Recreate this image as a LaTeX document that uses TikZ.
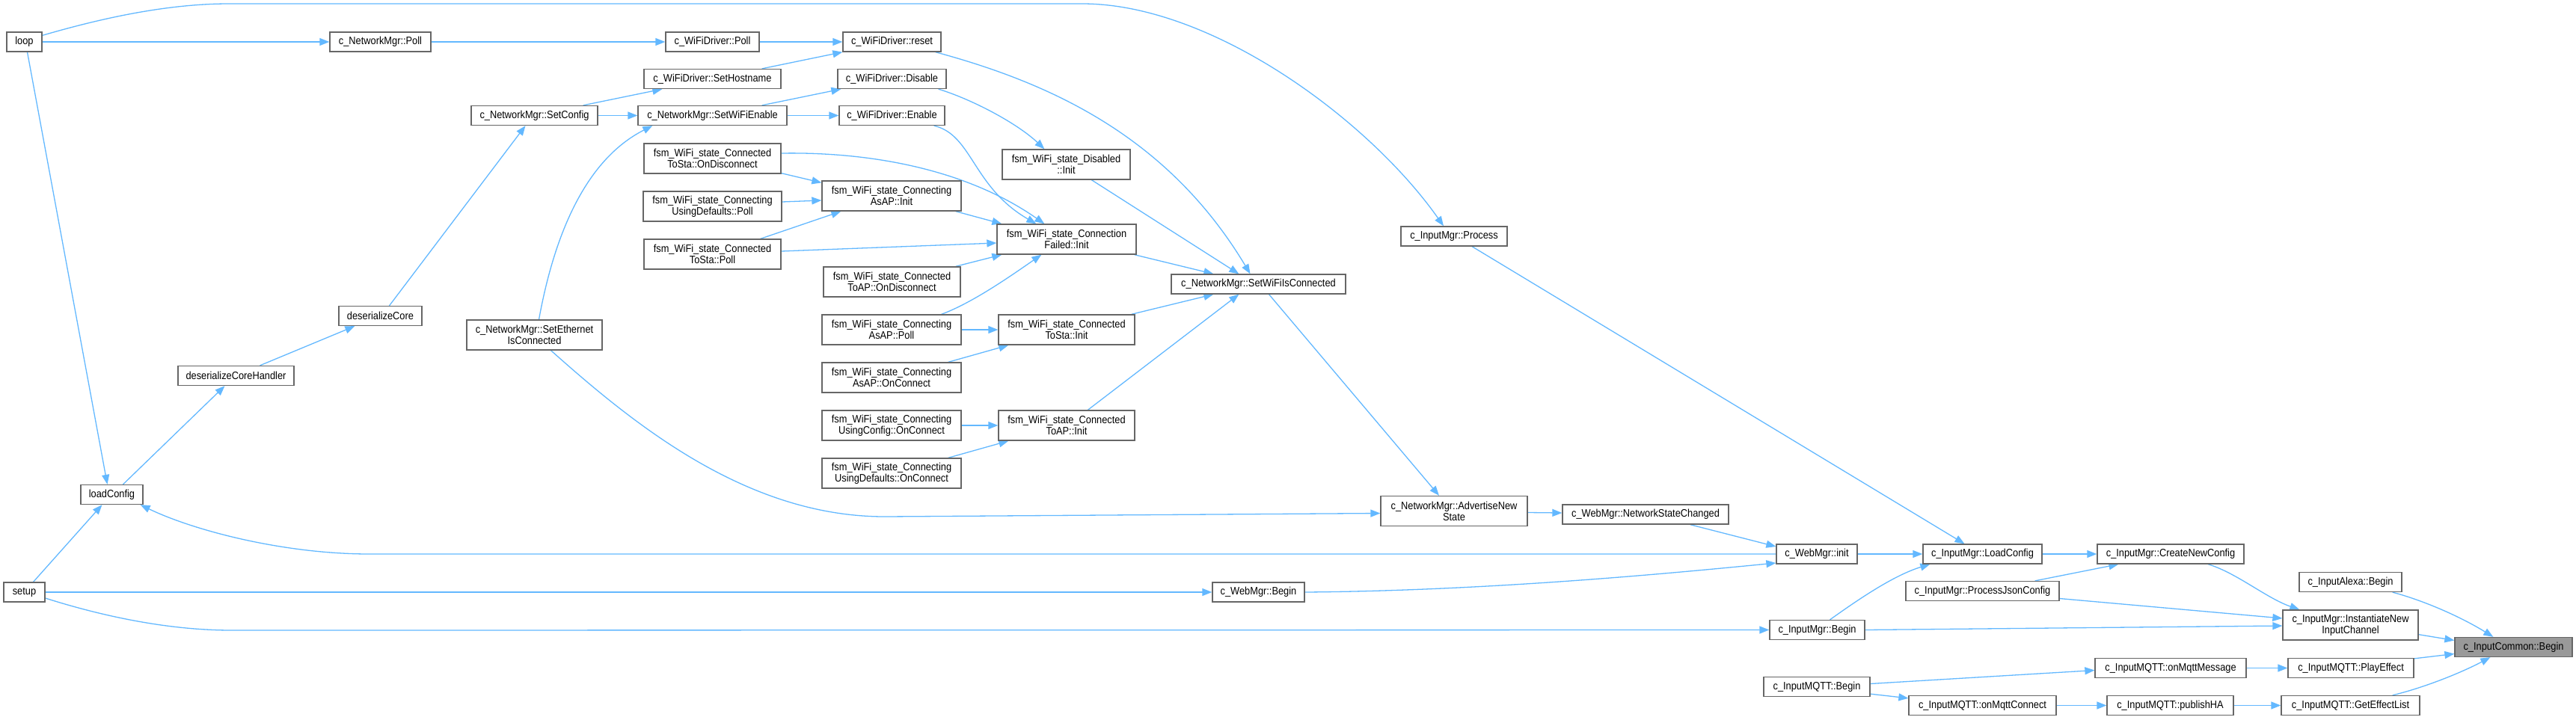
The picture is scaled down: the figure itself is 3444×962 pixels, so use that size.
\documentclass[tikz,border=0pt]{standalone}
\usepackage{fontspec}
\setmainfont{Liberation Sans}[FakeStretch=0.89]
\usetikzlibrary{arrows.meta,calc}
\definecolor{edgeblue}{HTML}{63B8FF}
\definecolor{boxgray}{HTML}{666666}
\definecolor{hlgray}{HTML}{999999}
\newcommand{\nodefnt}{\fontsize{14.4pt}{15pt}\selectfont}
\pgfdeclarelayer{bg}
\pgfsetlayers{bg,main}
\tikzset{
  box/.style={draw=boxgray, fill=white, line width=1.3pt, inner sep=0pt, align=center, font=\nodefnt, minimum height=26pt},
  two/.style={minimum height=40pt},
  conn/.style={draw=edgeblue, line width=1.3pt, -{Triangle[length=13pt,width=10pt]}},
}
\begin{document}
\begin{tikzpicture}[x=1pt,y=-1pt]
\useasboundingbox (0,0) rectangle (3444,962);
\node[box,minimum width=47pt] (loop) at (32.5,56) {loop};
\node[box,minimum width=55pt] (setup) at (32.5,792) {setup};
\node[box,minimum width=83pt] (loadcfg) at (149.5,661.5) {loadConfig};
\node[box,minimum width=155pt] (dch) at (315.5,502.5) {deserializeCoreHandler};
\node[box,minimum width=135pt] (nmpoll) at (508.5,56) {c\_NetworkMgr::Poll};
\node[box,minimum width=111pt] (dc) at (508.5,422.5) {deserializeCore};
\node[box,minimum width=169pt] (setcfg) at (714.5,154.5) {c\_NetworkMgr::SetConfig};
\node[box,two,minimum width=181pt] (seteth) at (714.5,448) {c\_NetworkMgr::SetEthernet\\IsConnected};
\node[box,minimum width=125pt] (wdpoll) at (952.5,56) {c\_WiFiDriver::Poll};
\node[box,minimum width=183pt] (sethost) at (952.5,105.5) {c\_WiFiDriver::SetHostname};
\node[box,minimum width=199pt] (setwifien) at (952.5,154.5) {c\_NetworkMgr::SetWiFiEnable};
\node[box,two,minimum width=183pt] (tsondisc) at (952.5,212) {fsm\_WiFi\_state\_Connected\\ToSta::OnDisconnect};
\node[box,two,minimum width=185pt] (udpoll) at (952.5,276) {fsm\_WiFi\_state\_Connecting\\UsingDefaults::Poll};
\node[box,two,minimum width=183pt] (tspoll) at (952.5,340) {fsm\_WiFi\_state\_Connected\\ToSta::Poll};
\node[box,minimum width=131pt] (reset) at (1192.5,56) {c\_WiFiDriver::reset};
\node[box,minimum width=145pt] (disable) at (1192.5,105.5) {c\_WiFiDriver::Disable};
\node[box,minimum width=141pt] (enable) at (1192.5,154.5) {c\_WiFiDriver::Enable};
\node[box,two,minimum width=186pt] (aainit) at (1192,262) {fsm\_WiFi\_state\_Connecting\\AsAP::Init};
\node[box,two,minimum width=183pt] (taondisc) at (1192.5,377) {fsm\_WiFi\_state\_Connected\\ToAP::OnDisconnect};
\node[box,two,minimum width=186pt] (aapoll) at (1192,441) {fsm\_WiFi\_state\_Connecting\\AsAP::Poll};
\node[box,two,minimum width=186pt] (aaonconn) at (1192,505) {fsm\_WiFi\_state\_Connecting\\AsAP::OnConnect};
\node[box,two,minimum width=186pt] (uconconn) at (1192,569) {fsm\_WiFi\_state\_Connecting\\UsingConfig::OnConnect};
\node[box,two,minimum width=186pt] (udonconn) at (1192,633) {fsm\_WiFi\_state\_Connecting\\UsingDefaults::OnConnect};
\node[box,two,minimum width=171pt] (disinit) at (1425.5,220) {fsm\_WiFi\_state\_Disabled\\::Init};
\node[box,two,minimum width=186pt] (cfinit) at (1426,320) {fsm\_WiFi\_state\_Connection\\Failed::Init};
\node[box,two,minimum width=182pt] (tsinit) at (1426,441) {fsm\_WiFi\_state\_Connected\\ToSta::Init};
\node[box,two,minimum width=182pt] (tainit) at (1426,569) {fsm\_WiFi\_state\_Connected\\ToAP::Init};
\node[box,minimum width=233pt] (setwificonn) at (1682.5,380) {c\_NetworkMgr::SetWiFiIsConnected};
\node[box,minimum width=123pt] (webbegin) at (1682.5,792) {c\_WebMgr::Begin};
\node[box,minimum width=142pt] (process) at (1944,316) {c\_InputMgr::Process};
\node[box,two,minimum width=196pt] (adv) at (1944,683.5) {c\_NetworkMgr::AdvertiseNew\\State};
\node[box,minimum width=222pt] (nsc) at (2200,688) {c\_WebMgr::NetworkStateChanged};
\node[box,minimum width=108pt] (webinit) at (2429,741) {c\_WebMgr::init};
\node[box,minimum width=127pt] (imbegin) at (2429.5,842.5) {c\_InputMgr::Begin};
\node[box,minimum width=142pt] (mqbegin) at (2429,918.5) {c\_InputMQTT::Begin};
\node[box,minimum width=159pt] (imload) at (2650.5,741) {c\_InputMgr::LoadConfig};
\node[box,minimum width=205pt] (pjc) at (2650.5,790.5) {c\_InputMgr::ProcessJsonConfig};
\node[box,minimum width=197pt] (onconn) at (2650.5,943.5) {c\_InputMQTT::onMqttConnect};
\node[box,minimum width=196pt] (cnc) at (2902,741) {c\_InputMgr::CreateNewConfig};
\node[box,minimum width=202pt] (onmsg) at (2902,893.5) {c\_InputMQTT::onMqttMessage};
\node[box,minimum width=169pt] (pubha) at (2901.5,943.5) {c\_InputMQTT::publishHA};
\node[box,minimum width=137pt] (alexa) at (3142.5,778.5) {c\_InputAlexa::Begin};
\node[box,two,minimum width=181pt] (inst) at (3142.5,836) {c\_InputMgr::InstantiateNew\\InputChannel};
\node[box,minimum width=168pt] (play) at (3143,893.5) {c\_InputMQTT::PlayEffect};
\node[box,minimum width=185pt] (gel) at (3142.5,943.5) {c\_InputMQTT::GetEffectList};
\node[box,fill=hlgray,minimum width=157pt] (icbegin) at (3360.5,865.5) {c\_InputCommon::Begin};
\begin{pgfonlayer}{bg}
\draw[conn] (loop.east) -- (nmpoll.west);
\draw[conn] ($(loop.north east)+(0,5)$) .. controls (130,26) and (220,5) .. (306,5) -- (1447,5) .. controls (1620,5) and (1830,160) .. ($(process.north)+(-14,0)$);
\draw[conn] ($(loop.south)+(4,0)$) -- ($(loadcfg.north)+(-6,0)$);
\draw[conn] (nmpoll.east) -- (wdpoll.west);
\draw[conn] (wdpoll.east) -- (reset.west);
\draw[conn] ($(sethost.north east)+(-26,0)$) -- (reset.south west);
\draw[conn] ($(setcfg.north east)+(-20,0)$) -- ($(sethost.south west)+(25,0)$);
\draw[conn] (setcfg.east) -- (setwifien.west);
\draw[conn] ($(setwifien.north east)+(-34,0)$) -- ($(disable.south west)+(5,0)$);
\draw[conn] (setwifien.east) -- (enable.west);
\draw[conn] ($(dc.north)+(12,0)$) -- ($(setcfg.south)+(-12,0)$);
\draw[conn] ($(dch.north)+(32,0)$) -- ($(dc.south west)+(22,0)$);
\draw[conn] ($(loadcfg.north)+(15,0)$) -- ($(dch.south)+(-15,0)$);
\draw[conn] ($(setup.north)+(12,0)$) -- ($(loadcfg.south)+(-13,0)$);
\draw[conn] ($(seteth.north)+(6,0)$) .. controls (740,320) and (780,215) .. ($(setwifien.south west)+(20,0)$);
\draw[conn] ($(disable.south east)+(-11,0)$) .. controls (1300,133) and (1360,165) .. ($(disinit.north west)+(57,0)$);
\draw[conn] ($(reset.south east)+(-8,0)$) .. controls (1400,110) and (1560,180) .. ($(setwificonn.north)+(-11,0)$);
\draw[conn] ($(enable.south east)+(-15,0)$) .. controls (1300,180) and (1300,250) .. ($(cfinit.north west)+(53,0)$);
\draw[conn] ($(tsondisc.east)+(0,-7)$) .. controls (1160,203) and (1290,225) .. ($(cfinit.north west)+(64,0)$);
\draw[conn] ($(tsondisc.south east)+(0,-1)$) -- ($(aainit.north west)+(0,3)$);
\draw[conn] ($(udpoll.east)+(0,-6)$) -- ($(aainit.west)+(0,6)$);
\draw[conn] ($(tspoll.north east)+(-28,0)$) -- ($(aainit.south west)+(26,0)$);
\draw[conn] ($(tspoll.east)+(0,-4)$) -- ($(cfinit.west)+(0,5)$);
\draw[conn] ($(aainit.south east)+(-8,0)$) -- ($(cfinit.north west)+(7,0)$);
\draw[conn] ($(taondisc.north east)+(-7,0)$) -- ($(cfinit.south west)+(7,0)$);
\draw[conn] ($(aapoll.north east)+(-27,0)$) .. controls (1300,405) and (1350,370) .. ($(cfinit.south west)+(60,0)$);
\draw[conn] (aapoll.east) -- (tsinit.west);
\draw[conn] ($(aaonconn.north east)+(-18,0)$) -- ($(tsinit.south west)+(14,0)$);
\draw[conn] (uconconn.east) -- (tainit.west);
\draw[conn] ($(udonconn.north east)+(-18,0)$) -- ($(tainit.south west)+(14,0)$);
\draw[conn] ($(cfinit.south east)+(-3,0)$) -- ($(setwificonn.north west)+(57,0)$);
\draw[conn] ($(disinit.south west)+(120,0)$) -- ($(setwificonn.north west)+(91,0)$);
\draw[conn] ($(tsinit.north east)+(-5,0)$) -- ($(setwificonn.south west)+(57,0)$);
\draw[conn] ($(tainit.north west)+(120,0)$) -- ($(setwificonn.south west)+(91,0)$);
\draw[conn] ($(setwificonn.south)+(14,0)$) -- ($(adv.north)+(-20,0)$);
\draw[conn] ($(seteth.south)+(22,0)$) .. controls (850,570) and (1000,691) .. (1183,691) -- ($(adv.west)+(0,3)$);
\draw[conn] ($(adv.east)+(0,2)$) -- ($(nsc.west)+(0,-2)$);
\draw[conn] ($(nsc.south east)+(-52,0)$) -- ($(webinit.west)+(0,-10)$);
\draw[conn] (webinit.west) -- (494,741) .. controls (380,741) and (260,710) .. ($(loadcfg.south east)+(-4,0)$);
\draw[conn] (setup.east) -- (webbegin.west);
\draw[conn] (webbegin.east) .. controls (2000,790) and (2250,765) .. ($(webinit.west)+(0,12)$);
\draw[conn] ($(setup.east)+(0,8)$) .. controls (130,822) and (220,843) .. (310,843) -- (imbegin.west);
\draw[conn] (webinit.east) -- (imload.west);
\draw[conn] ($(imbegin.north)+(17,0)$) .. controls (2480,805) and (2530,770) .. ($(imload.south west)+(10,0)$);
\draw[conn] ($(process.south)+(24,0)$) -- ($(imload.north)+(-24,0)$);
\draw[conn] (imload.east) -- (cnc.west);
\draw[conn] ($(pjc.north east)+(-33,0)$) -- ($(cnc.south west)+(29,0)$);
\draw[conn] ($(cnc.south)+(50,0)$) .. controls (2990,766) and (3030,800) .. ($(inst.north west)+(23,0)$);
\draw[conn] ($(pjc.east)+(0,10)$) -- ($(inst.west)+(0,-9)$);
\draw[conn] (imbegin.east) -- ($(inst.west)+(0,1)$);
\draw[conn] ($(mqbegin.east)+(0,-4)$) -- ($(onmsg.west)+(0,3)$);
\draw[conn] ($(mqbegin.south east)+(0,-4)$) -- ($(onconn.north west)+(0,4)$);
\draw[conn] (onconn.east) -- (pubha.west);
\draw[conn] (onmsg.east) -- (play.west);
\draw[conn] (pubha.east) -- (gel.west);
\draw[conn] ($(alexa.south east)+(-13,0)$) .. controls (3240,803) and (3290,825) .. ($(icbegin.north west)+(52,0)$);
\draw[conn] ($(inst.south east)+(0,-8)$) -- ($(icbegin.west)+(0,-9)$);
\draw[conn] ($(play.north east)+(0,1)$) -- ($(icbegin.west)+(0,9)$);
\draw[conn] ($(gel.north east)+(-37,0)$) .. controls (3240,920) and (3290,900) .. ($(icbegin.south west)+(48,0)$);
\end{pgfonlayer}
\end{tikzpicture}
\end{document}
